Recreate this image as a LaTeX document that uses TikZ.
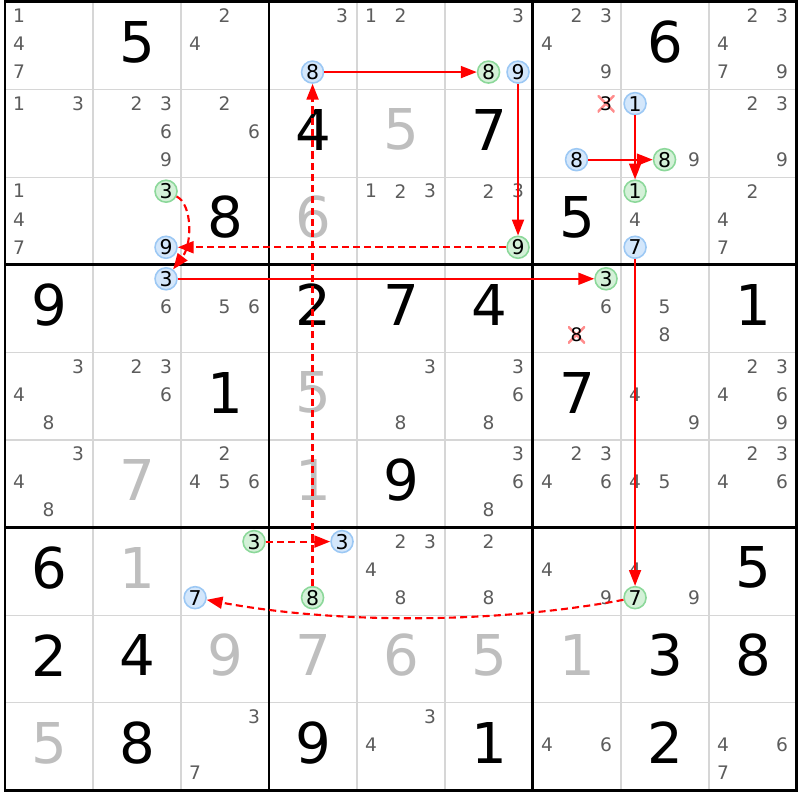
\documentclass[tikz,border=0pt]{standalone}
\usepackage{fontspec}
\setmainfont{DejaVu Sans}
\usepackage{xcolor}
\usepackage{tikz}
\usetikzlibrary{arrows.meta}

\definecolor{gridgray}{HTML}{D6D6D6}
\definecolor{candgray}{HTML}{5C5C5C}
\definecolor{solvedgray}{HTML}{BEBEBE}
\definecolor{blueline}{HTML}{9CC8F4}
\definecolor{bluefill}{HTML}{D4E7FB}
\definecolor{greenline}{HTML}{8CD89A}
\definecolor{greenfill}{HTML}{D4F1D8}
\definecolor{crosscol}{HTML}{FF8C8C}
\definecolor{linkred}{HTML}{FF0000}

\tikzset{
  given/.style={font=\fontsize{16}{16}\selectfont, text=black, inner sep=0pt},
  solved/.style={given, text=solvedgray},
  cand/.style={font=\fontsize{5.3}{6}\selectfont, text=candgray, inner sep=0pt},
  bluemark/.style={cand, font=\fontsize{5.8}{6}\selectfont, text=black, circle,
    draw=blueline, fill=bluefill, line width=0.45pt, minimum size=0.22cm},
  greenmark/.style={bluemark, draw=greenline, fill=greenfill},
  gone/.style={cand, text=black, minimum size=0.17cm,
    path picture={\draw[crosscol, line width=0.7pt]
      (path picture bounding box.south west) -- (path picture bounding box.north east)
      (path picture bounding box.north west) -- (path picture bounding box.south east);}},
  solidlink/.style={draw=linkred, line width=0.5pt, -{Triangle[length=4.5pt,width=3.4pt]}},
  dashlink/.style={solidlink, line width=0.6pt, dash pattern=on 2pt off 1.2pt},
}

% candidate #4 of cell (row #2, column #3)
\newcommand{\pencil}[4][cand]{%
  \node[#1] (k#2#3#4) at ({#3+0.495+(mod(#4-1,3)-1)*0.335},{#2+0.48+(int((#4-1)/3)-1)*0.32}) {#4};}

\begin{document}
\begin{tikzpicture}[x=0.88cm, y=-0.876cm]
  \useasboundingbox (-0.0568,-0.0228) rectangle (9.034,9.110);
  % grid
  \foreach \i in {1,...,8}
    \draw[gridgray, line width=0.3pt] (\i,0) -- (\i,9) (0,\i) -- (9,\i);
  \foreach \i in {3,6}
    \draw[line width=0.85pt] (\i,0) -- (\i,9) (0,\i) -- (9,\i);
  \draw[line width=0.85pt] (0,0) rectangle (9,9);

  % givens
  \foreach \r/\c/\v in {0/1/5, 0/7/6, 1/3/4, 1/5/7, 2/2/8, 2/6/5,
      3/0/9, 3/3/2, 3/4/7, 3/5/4, 3/8/1, 4/2/1, 4/6/7, 5/4/9, 6/0/6, 6/8/5,
      7/0/2, 7/1/4, 7/7/3, 7/8/8, 8/1/8, 8/3/9, 8/5/1, 8/7/2}
    \node[given] (g\r\c) at (\c+0.5,\r+0.46) {\v};
  % solved
  \foreach \r/\c/\v in {1/4/5, 2/3/6, 4/3/5, 5/1/7, 5/3/1, 6/1/1,
      7/2/9, 7/3/7, 7/4/6, 7/5/5, 7/6/1, 8/0/5}
    \node[solved] (g\r\c) at (\c+0.5,\r+0.46) {\v};

  % candidates
  \foreach \r/\c/\l in {0/0/{1,4,7}, 0/2/{2,4}, 0/3/{3}, 0/4/{1,2}, 0/5/{3},
      0/6/{2,3,4,9}, 0/8/{2,3,4,7,9}, 1/0/{1,3}, 1/1/{2,3,6,9}, 1/2/{2,6},
      1/7/{9}, 1/8/{2,3,9}, 2/0/{1,4,7}, 2/4/{1,2,3}, 2/5/{2,3}, 2/7/{4},
      2/8/{2,4,7}, 3/1/{6}, 3/2/{5,6}, 3/6/{6}, 3/7/{5,8}, 4/0/{3,4,8},
      4/1/{2,3,6}, 4/4/{3,8}, 4/5/{3,6,8}, 4/7/{4,9}, 4/8/{2,3,4,6,9},
      5/0/{3,4,8}, 5/2/{2,4,5,6}, 5/5/{3,6,8}, 5/6/{2,3,4,6}, 5/7/{4,5},
      5/8/{2,3,4,6}, 6/4/{2,3,4,8}, 6/5/{2,8}, 6/6/{4,9}, 6/7/{4,9},
      8/2/{3,7}, 8/4/{3,4}, 8/6/{4,6}, 8/8/{4,6,7}}
    {\foreach \d in \l {\pencil{\r}{\c}{\d}}}
  \pencil[gone]{1}{6}{3}
  \pencil[gone]{3}{6}{8}

  % chain
  \pencil[bluemark]{0}{3}{8}  \pencil[greenmark]{0}{5}{8}
  \pencil[bluemark]{0}{5}{9}  \pencil[greenmark]{2}{5}{9}
  \pencil[bluemark]{2}{1}{9}  \pencil[greenmark]{2}{1}{3}
  \pencil[bluemark]{3}{1}{3}  \pencil[greenmark]{3}{6}{3}
  \pencil[bluemark]{1}{6}{8}  \pencil[greenmark]{1}{7}{8}
  \pencil[bluemark]{1}{7}{1}  \pencil[greenmark]{2}{7}{1}
  \pencil[bluemark]{2}{7}{7}  \pencil[greenmark]{6}{7}{7}
  \pencil[bluemark]{6}{2}{7}  \pencil[greenmark]{6}{2}{3}
  \pencil[bluemark]{6}{3}{3}  \pencil[greenmark]{6}{3}{8}

  \draw[solidlink] (k038) -- (k058);
  \draw[solidlink] (k059) -- (k259);
  \draw[dashlink] (k259) -- (k219);
  \draw[dashlink] (k213) .. controls +(0.3,0.15) and +(0.3,-0.4) .. (k313);
  \draw[solidlink] (k313) -- (k363);
  \draw[solidlink] (k168) -- (k178);
  \draw[solidlink] (k171) -- (k271);
  \draw[solidlink] (k277) -- (k677);
  \draw[dashlink] (k677) .. controls +(-1.6,0.3) and +(1.6,0.3) .. (k627);
  \draw[dashlink] (k623) -- (k633);
  \draw[dashlink] (k638) -- (k038);
\end{tikzpicture}
\end{document}
